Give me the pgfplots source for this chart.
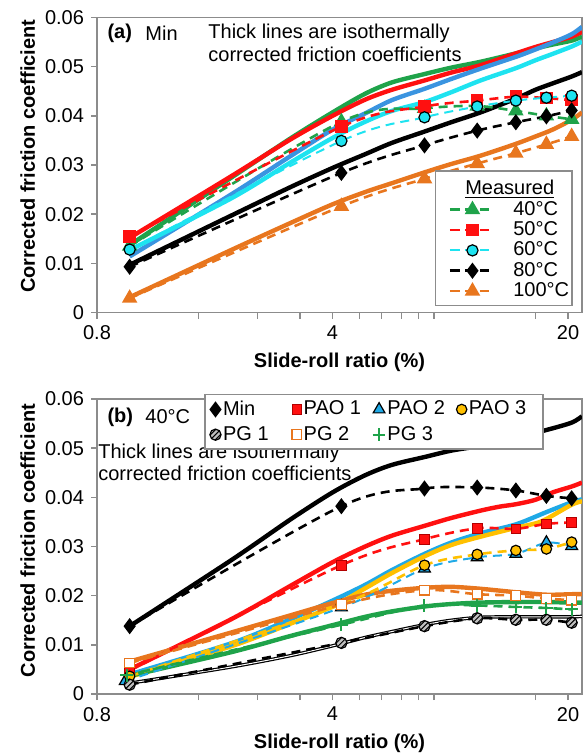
\documentclass[border=0pt]{standalone}
\usepackage{fontspec}
\setmainfont{Liberation Sans}
\usepackage{pgfplots}
\pgfplotsset{compat=1.18}

\definecolor{cgreen}{HTML}{1FA34A}
\definecolor{cred}{HTML}{FF1010}
\definecolor{ccyan}{HTML}{1EE3F0}
\definecolor{cblue}{HTML}{3A94E0}
\definecolor{corange}{HTML}{E8761E}
\definecolor{cpao}{HTML}{1FA9E6}
\definecolor{cyellow}{HTML}{FFC000}
\definecolor{axgray}{HTML}{8C8C8C}

\pgfdeclareplotmark{hatchcirc}{%
  \pgfpathcircle{\pgfpointorigin}{\pgfplotmarksize}%
  \pgfsetfillcolor{black!25}%
  \pgfusepathqfill
  \begin{pgfscope}%
    \pgfpathcircle{\pgfpointorigin}{\pgfplotmarksize}\pgfusepath{clip}%
    \pgfsetlinewidth{0.5pt}%
    \pgfpathmoveto{\pgfpoint{-\pgfplotmarksize}{-\pgfplotmarksize}}\pgfpathlineto{\pgfpoint{\pgfplotmarksize}{\pgfplotmarksize}}%
    \pgfpathmoveto{\pgfpoint{-\pgfplotmarksize}{-0.1\pgfplotmarksize}}\pgfpathlineto{\pgfpoint{\pgfplotmarksize}{1.9\pgfplotmarksize}}%
    \pgfpathmoveto{\pgfpoint{-\pgfplotmarksize}{-1.9\pgfplotmarksize}}\pgfpathlineto{\pgfpoint{\pgfplotmarksize}{0.1\pgfplotmarksize}}%
    \pgfusepathqstroke
  \end{pgfscope}%
  \pgfpathcircle{\pgfpointorigin}{\pgfplotmarksize}%
  \pgfusepathqstroke
}

\tikzset{
  thk/.style={line width=2.2pt, smooth},
  dsh/.style={line width=1.3pt, dash pattern=on 4.5pt off 3pt, smooth},
}

\begin{document}
\begin{tikzpicture}
\useasboundingbox (0,0) rectangle (291.5pt,-377.5pt);

%%%%%%%%%%%%%%%% (a)
\begin{axis}[at={(48.5pt,-156.25pt)}, anchor=south west,
    scale only axis, width=242.5pt, height=147.5pt,
    xmode=log, xmin=0.8, xmax=22, ymin=0, ymax=0.06,
    xtick={0.8,4,20}, xticklabels={0.8,4,20},
    minor xtick={1.6,2.4,3.2,4.8,5.6,6.4,7.2,8,16},
    ytick={0,0.01,0.02,0.03,0.04,0.05,0.06},
    yticklabels={0,0.01,0.02,0.03,0.04,0.05,0.06},
    scaled y ticks=false,
    tick align=outside, tick pos=left,
    major tick length=3pt, minor tick length=3pt,
    axis line style={axgray, line width=0.7pt},
    tick style={axgray, line width=0.7pt},
    minor tick style={axgray, line width=0.7pt},
    xlabel={\textbf{Slide-roll ratio (\%)}},
    ylabel={\textbf{Corrected friction coefficient}},
    xlabel style={at={(axis description cs:0.5,-0.168)}, anchor=center},
    ylabel style={at={(axis description cs:-0.143,0.53)}, anchor=center},
    legend cell align=left,
    legend image code/.code={\path (0pt,0pt); \draw[mark repeat=2,mark phase=2] plot coordinates {(6pt,0pt) (17.25pt,0pt) (28.5pt,0pt)}; \path (36pt,0pt);},
    legend style={at={(0.981,0.022)}, anchor=south east, draw=axgray, line width=0.7pt,
      fill=white, inner xsep=0.5pt, inner ysep=2pt, row sep=0pt,
      nodes={inner ysep=0.85pt, inner xsep=1pt},
      /tikz/every even column/.style={column sep=0pt},
      /tikz/every odd column/.style={column sep=0pt}},
]
\addplot[cgreen, thk, forget plot] coordinates {(1,0.0137) (2,0.0274) (3,0.0354) (4,0.0407) (5,0.0445) (6,0.0468) (7.5,0.0485) (9,0.0498) (11,0.0510) (14,0.0527) (16,0.0537) (18,0.0545) (20.5,0.0553) (22,0.0561)};
\addplot[cred, thk, forget plot] coordinates {(1,0.0152) (2,0.0277) (3,0.0352) (4,0.0400) (5,0.0433) (6,0.0453) (7.5,0.0472) (9,0.0488) (11,0.0503) (14,0.0527) (16,0.0540) (18,0.0550) (20.5,0.0561) (22,0.0571)};
\addplot[cblue, thk, forget plot] coordinates {(1,0.0114) (2,0.0240) (3,0.0318) (4,0.0372) (5,0.0405) (6,0.0432) (7.5,0.0455) (9,0.0475) (11,0.0496) (14,0.0520) (16,0.0535) (18,0.0549) (20.5,0.0566) (22,0.0581)};
\addplot[ccyan, thk, forget plot] coordinates {(1,0.0127) (2,0.0232) (3,0.0305) (4,0.0355) (5,0.0388) (6,0.0410) (7.5,0.0428) (9,0.0448) (11,0.0472) (14,0.0497) (16,0.0513) (18,0.0526) (20.5,0.0541) (22,0.0551)};
\addplot[black, thk, forget plot] coordinates {(1,0.0097) (2,0.0197) (3,0.0255) (4,0.0294) (5,0.0322) (6,0.0345) (7.5,0.0368) (9,0.0387) (11,0.0407) (14,0.0435) (16,0.0453) (18,0.0466) (20.5,0.0480) (22,0.0489)};
\addplot[corange, thk, forget plot] coordinates {(1,0.0031) (2,0.0127) (3,0.0182) (4,0.0220) (5,0.0245) (6,0.0263) (7.5,0.0285) (9,0.0302) (11,0.0319) (14,0.0343) (16,0.0358) (18,0.0372) (20.5,0.0392) (22,0.0407)};

\addlegendimage{empty legend}
\addlegendentry{\makebox[0pt][l]{\hspace*{-24pt}\rule{0pt}{9pt}\underline{Measured}}}
\addplot[cgreen, dsh, mark=triangle*, mark size=3.2pt, mark options={solid, fill=cgreen, draw=cgreen}] coordinates {(1,0.0135) (4.25,0.0388) (7.5,0.0415) (10.75,0.0420) (14,0.0410) (17.25,0.0400) (20.5,0.0393)};
\addlegendentry{40°C}
\addplot[cred, dsh, mark=square*, mark size=2.5pt, mark options={solid, fill=cred, draw=cred}] coordinates {(1,0.0154) (4.25,0.0378) (7.5,0.0419) (10.75,0.0431) (14,0.0439) (17.25,0.0436) (20.5,0.0432)};
\addlegendentry{50°C}
\addplot[ccyan, line width=1pt, dash pattern=on 4.5pt off 3pt, smooth, mark=*, mark size=2.8pt, mark options={solid, fill=ccyan, draw=black, line width=0.6pt}] coordinates {(1,0.0128) (4.25,0.0349) (7.5,0.0397) (10.75,0.0419) (14,0.0431) (17.25,0.0437) (20.5,0.0441)};
\addlegendentry{60°C}
\addplot[black, dsh, mark=diamond*, mark size=3pt, mark options={solid, fill=black}] coordinates {(1,0.0093) (4.25,0.0284) (7.5,0.0340) (10.75,0.0370) (14,0.0387) (17.25,0.0399) (20.5,0.0411)};
\addlegendentry{80°C}
\addplot[corange, dsh, mark=triangle*, mark size=3.2pt, mark options={solid, fill=corange, draw=corange}] coordinates {(1,0.0029) (4.25,0.0216) (7.5,0.0272) (10.75,0.0303) (14,0.0324) (17.25,0.0342) (20.5,0.0358)};
\addlegendentry{100°C}

\node[anchor=west, inner sep=0pt, font=\bfseries] at (axis description cs:0.021,0.947) {(a)};
\node[anchor=west, inner sep=0pt] at (axis description cs:0.099,0.947) {Min};
\node[anchor=north west, inner sep=0pt, align=left, font=\fontsize{10}{11.2}\selectfont] at (axis description cs:0.229,0.978) {Thick lines are isothermally\\corrected friction coefficients};
\end{axis}

%%%%%%%%%%%%%%%% (b)
\begin{axis}[at={(48.5pt,-347pt)}, anchor=south west,
    scale only axis, width=242.5pt, height=147.5pt,
    xmode=log, xmin=0.8, xmax=22, ymin=0, ymax=0.06,
    xtick={0.8,4,20}, xticklabels={0.8,4,20},
    minor xtick={1.6,2.4,3.2,4.8,5.6,6.4,7.2,8,16},
    ytick={0,0.01,0.02,0.03,0.04,0.05,0.06},
    yticklabels={0,0.01,0.02,0.03,0.04,0.05,0.06},
    scaled y ticks=false,
    tick align=outside, tick pos=left,
    major tick length=3pt, minor tick length=3pt,
    axis line style={axgray, line width=0.7pt},
    tick style={axgray, line width=0.7pt},
    minor tick style={axgray, line width=0.7pt},
    xlabel={\textbf{Slide-roll ratio (\%)}},
    ylabel={\textbf{Corrected friction coefficient}},
    xlabel style={at={(axis description cs:0.5,-0.168)}, anchor=center},
    ylabel style={at={(axis description cs:-0.143,0.52)}, anchor=center},
    legend cell align=left,
    legend columns=4,
    legend image code/.code={\draw plot coordinates {(0pt,0pt)};},
    legend style={at={(0.221,1.017)}, anchor=north west, draw=axgray, line width=0.7pt,
      fill=white, inner xsep=2.5pt, inner ysep=1pt, row sep=0pt, nodes={inner xsep=1pt}},
]
\addplot[black, thk, forget plot] coordinates {(1,0.0138) (2,0.0272) (3,0.0355) (4,0.0410) (5,0.0445) (6,0.0466) (7.5,0.0482) (9,0.0495) (11,0.0505) (14,0.0522) (17.25,0.0537) (20.5,0.0552) (22,0.0565)};
\addplot[cred, thk, forget plot] coordinates {(1,0.0050) (2,0.0152) (3,0.0220) (4,0.0268) (5,0.0300) (6,0.0322) (7.5,0.0342) (9,0.0358) (11,0.0373) (12.5,0.0381) (14,0.0386) (16,0.0395) (18,0.0410) (20.5,0.0422) (22,0.0430)};
\addplot[cpao, thk, forget plot] coordinates {(1,0.0040) (2,0.0103) (3,0.0152) (4,0.0190) (5,0.0222) (6,0.0252) (7.5,0.0285) (9,0.0308) (11,0.0327) (14,0.0345) (17.25,0.0370) (20.5,0.0390) (22,0.0396)};
\addplot[cyellow, thk, forget plot] coordinates {(1,0.0035) (2,0.0097) (3,0.0143) (4,0.0178) (5,0.0215) (6,0.0246) (7.5,0.0280) (9,0.0303) (11,0.0320) (14,0.0338) (16,0.0347) (17.25,0.0356) (20.5,0.0385) (22,0.0392)};
\addplot[corange, thk, forget plot] coordinates {(1,0.0066) (2,0.0125) (3,0.0160) (4,0.0185) (5,0.0202) (6,0.0210) (7.5,0.0216) (9,0.0218) (11,0.0214) (14,0.0207) (17.25,0.0202) (20.5,0.0203) (22,0.0203)};
\addplot[cgreen, thk, forget plot] coordinates {(1,0.0037) (2,0.0085) (3,0.0118) (4,0.0140) (5,0.0157) (6,0.0168) (7.5,0.0178) (9,0.0183) (11,0.0186) (14,0.0187) (17.25,0.0187) (20.5,0.0186) (22,0.0186)};
\addplot[black, line width=0.6pt, double=white, double distance=0.5pt, smooth, forget plot] coordinates {(1,0.0022) (2,0.0055) (3,0.0078) (4,0.0098) (5,0.0115) (6,0.0127) (7.5,0.0141) (9,0.0150) (11,0.0156) (14,0.0157) (17.25,0.0157) (20.5,0.0157) (22,0.0158)};

\addplot[black, dsh, mark=diamond*, mark size=3pt, mark options={solid, fill=black}] coordinates {(1,0.0138) (4.25,0.0382) (7.5,0.0418) (10.75,0.0420) (14,0.0414) (17.25,0.0403) (20.5,0.0398)};
\addlegendentry{\makebox[33.5pt][l]{Min}}
\addplot[cred, dsh, mark=square*, mark size=2.4pt, mark options={solid, fill=cred, draw=red!70!black, line width=0.4pt}] coordinates {(1,0.0048) (4.25,0.0262) (7.5,0.0315) (10.75,0.0337) (14,0.0336) (17.25,0.0346) (20.5,0.0349)};
\addlegendentry{\makebox[33.5pt][l]{PAO 1}}
\addplot[cpao, line width=1pt, dash pattern=on 4.5pt off 3pt, smooth, mark=triangle*, mark size=3.4pt, mark options={solid, fill=cpao, draw=black, line width=0.6pt}] coordinates {(0.97,0.0026) (4.25,0.0176) (7.5,0.0255) (10.75,0.0278) (14,0.0285) (17.25,0.0308) (20.5,0.0301)};
\addlegendentry{\makebox[33.5pt][l]{PAO 2}}
\addplot[cyellow, dsh, mark=*, mark size=2.6pt, mark options={solid, fill=cyellow, draw=black, line width=0.6pt}] coordinates {(1,0.0036) (4.25,0.0182) (7.5,0.0262) (10.75,0.0284) (14,0.0292) (17.25,0.0295) (20.5,0.0309)};
\addlegendentry{\makebox[33.5pt][l]{PAO 3}}
\addplot[black, dsh, mark=hatchcirc, mark size=2.8pt, mark options={solid, draw=black, line width=0.6pt}] coordinates {(1,0.0019) (4.25,0.0104) (7.5,0.0138) (10.75,0.0154) (14,0.0151) (17.25,0.0151) (20.5,0.0145)};
\addlegendentry{\makebox[33.5pt][l]{PG 1}}
\addplot[corange, dsh, mark=square*, mark size=2.4pt, mark options={solid, fill=white, draw=corange, line width=0.6pt}] coordinates {(1,0.0063) (4.25,0.0182) (7.5,0.0211) (10.75,0.0203) (14,0.0200) (17.25,0.0194) (20.5,0.0191)};
\addlegendentry{\makebox[33.5pt][l]{PG 2}}
\addplot[cgreen, dsh, mark=+, mark size=3.2pt, mark options={solid, line width=1pt}] coordinates {(0.98,0.0038) (4.25,0.0141) (7.5,0.0180) (10.75,0.0180) (14,0.0177) (17.25,0.0175) (20.5,0.0172)};
\addlegendentry{\makebox[33.5pt][l]{PG 3}}

\node[anchor=west, inner sep=0pt, font=\bfseries] at (axis description cs:0.021,0.939) {(b)};
\node[anchor=west, inner sep=0pt] at (axis description cs:0.099,0.939) {40°C};
\node[anchor=north west, inner sep=0pt, align=left, font=\fontsize{10}{11}\selectfont] at (axis description cs:0.002,0.848) {Thick lines are isothermally\\corrected friction coefficients};
\end{axis}
\end{tikzpicture}
\end{document}
